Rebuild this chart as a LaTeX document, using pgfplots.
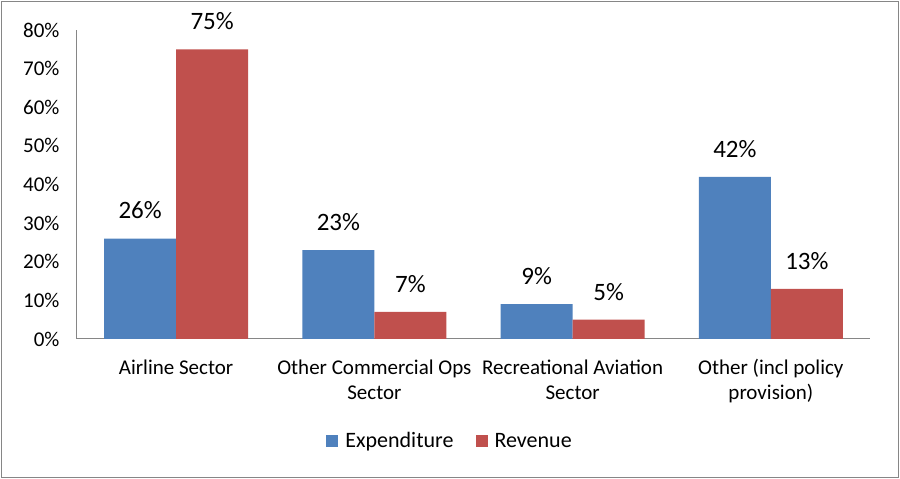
\documentclass[border=0pt]{standalone}
\usepackage{fontspec}
\setmainfont{Carlito}
\usepackage{pgfplots}
\pgfplotsset{compat=1.18}
\definecolor{xblue}{HTML}{4F81BD}
\definecolor{xred}{HTML}{C0504D}
\definecolor{axgray}{HTML}{868686}
\begin{document}
\begin{tikzpicture}[x=1pt,y=1pt]
\useasboundingbox (0,0) rectangle (900,479);
\draw[axgray, line width=1pt] (1.5,1.5) rectangle (898.5,477.5);
\begin{axis}[
  at={(77pt,140pt)}, anchor=south west,
  scale only axis, width=793pt, height=309pt,
  ybar=0pt, bar width=72pt,
  xmin=-0.5, xmax=3.5, ymin=0, ymax=80,
  axis x line*=bottom, axis y line*=left,
  axis line style={axgray, line width=1pt, -},
  major tick length=0pt,
  xtick=data,
  xticklabels={Airline Sector, Other Commercial Ops\\Sector, Recreational Aviation\\Sector, Other (incl policy\\provision)},
  xticklabel style={align=center, font=\fontsize{21}{25}\selectfont, anchor=north, yshift=-17pt},
  ytick={0,10,...,80},
  yticklabel={\pgfmathprintnumber{\tick}\%},
  yticklabel style={font=\fontsize{21}{25}\selectfont, xshift=-14pt},
  /pgf/number format/assume math mode=true,
  nodes near coords={\pgfmathprintnumber{\pgfplotspointmeta}\%},
  nodes near coords style={font=\fontsize{25}{29}\selectfont, anchor=center, yshift=28pt, black},
  legend style={at={(axis description cs:0.4704,-0.330)}, anchor=center, draw=none,
    font=\fontsize{22}{25}\selectfont, /tikz/every even column/.append style={column sep=20pt}},
  legend columns=2,
  legend image code/.code={\fill[#1] (0pt,-6pt) rectangle (12pt,6pt); \path (17pt,0pt);},
]
\addplot[fill=xblue, draw=none] coordinates {(0,26) (1,23) (2,9) (3,42)};
\addplot[fill=xred, draw=none] coordinates {(0,75) (1,7) (2,5) (3,13)};
\legend{Expenditure, Revenue}
\end{axis}
\end{tikzpicture}
\end{document}
